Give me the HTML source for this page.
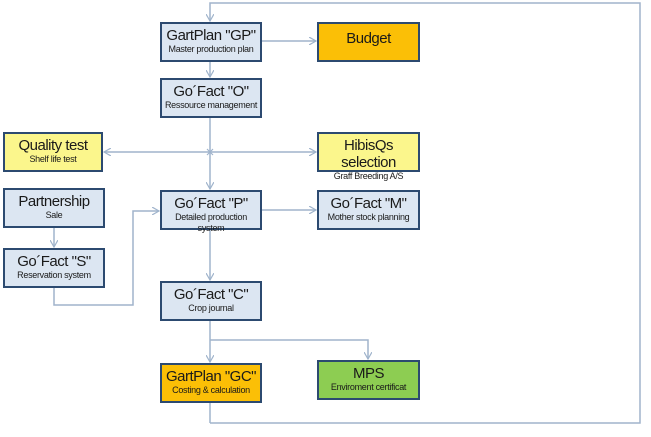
<!DOCTYPE html>
<html><head><meta charset="utf-8"><style>
body{margin:0;background:#fff;width:651px;height:437px;overflow:hidden;position:relative;font-family:"Liberation Sans Narrow","Liberation Sans",sans-serif}
.b{position:absolute;box-sizing:border-box;border:2px solid #2c4a70;background:#dce6f2;text-align:center;color:#1a1a1a}
.t{font-size:15px;line-height:17px;margin-top:3px;letter-spacing:-0.5px}
.s{font-size:9px;line-height:11px;letter-spacing:-0.3px}
.or{background:#fbbf06}.ye{background:#fbf68c}.gr{background:#8dcd52}
svg{position:absolute;left:0;top:0}
</style></head><body>
<svg width="651" height="437">
<defs><marker id="a" markerWidth="8" markerHeight="8" refX="7" refY="4" orient="auto" markerUnits="userSpaceOnUse"><path d="M0,0 L7,4 L0,8" fill="none" stroke="#a0b4cc" stroke-width="1.2"/></marker></defs>
<g stroke="#a0b4cc" stroke-width="1.5" fill="none">
<polyline points="210,423 640,423 640,3 210,3 210,21" marker-end="url(#a)"/>
<line x1="210" y1="402" x2="210" y2="423"/>
<line x1="262" y1="41" x2="316" y2="41" marker-end="url(#a)"/>
<line x1="210" y1="61" x2="210" y2="77" marker-end="url(#a)"/>
<line x1="210" y1="118" x2="210" y2="189" marker-end="url(#a)"/>
<line x1="210" y1="152" x2="104" y2="152" marker-end="url(#a)"/>
<line x1="210" y1="152" x2="316" y2="152" marker-end="url(#a)"/>
<line x1="262" y1="210" x2="316" y2="210" marker-end="url(#a)"/>
<line x1="54" y1="228" x2="54" y2="247" marker-end="url(#a)"/>
<polyline points="54,288 54,305 133,305 133,211 159,211" marker-end="url(#a)"/>
<line x1="210" y1="230" x2="210" y2="280" marker-end="url(#a)"/>
<line x1="210" y1="320" x2="210" y2="362" marker-end="url(#a)"/>
<polyline points="210,340 368,340 368,359" marker-end="url(#a)"/>
</g>
<path d="M207,149 L213,155 M213,149 L207,155" stroke="#a0b4cc" stroke-width="1.2"/>
</svg>
<div class="b" style="left:160px;top:22px;width:102px;height:40px"><div class="t">GartPlan "GP"</div><div class="s">Master production plan</div></div>
<div class="b or" style="left:317px;top:22px;width:103px;height:40px"><div class="t" style="margin-top:6px">Budget</div></div>
<div class="b" style="left:160px;top:78px;width:102px;height:40px"><div class="t">Go´Fact "O"</div><div class="s">Ressource management</div></div>
<div class="b ye" style="left:3px;top:132px;width:100px;height:40px"><div class="t">Quality test</div><div class="s">Shelf life test</div></div>
<div class="b ye" style="left:317px;top:132px;width:103px;height:40px"><div class="t">HibisQs selection</div><div class="s">Graff Breeding A/S</div></div>
<div class="b" style="left:3px;top:188px;width:102px;height:40px"><div class="t">Partnership</div><div class="s">Sale</div></div>
<div class="b" style="left:160px;top:190px;width:102px;height:40px"><div class="t">Go´Fact "P"</div><div class="s">Detailed production system</div></div>
<div class="b" style="left:317px;top:190px;width:103px;height:40px"><div class="t">Go´Fact "M"</div><div class="s">Mother stock planning</div></div>
<div class="b" style="left:3px;top:248px;width:102px;height:40px"><div class="t">Go´Fact "S"</div><div class="s">Reservation system</div></div>
<div class="b" style="left:160px;top:281px;width:102px;height:40px"><div class="t">Go´Fact "C"</div><div class="s">Crop journal</div></div>
<div class="b or" style="left:160px;top:363px;width:102px;height:40px"><div class="t">GartPlan "GC"</div><div class="s">Costing &amp; calculation</div></div>
<div class="b gr" style="left:317px;top:360px;width:103px;height:40px"><div class="t">MPS</div><div class="s">Enviroment certificat</div></div>
</body></html>
